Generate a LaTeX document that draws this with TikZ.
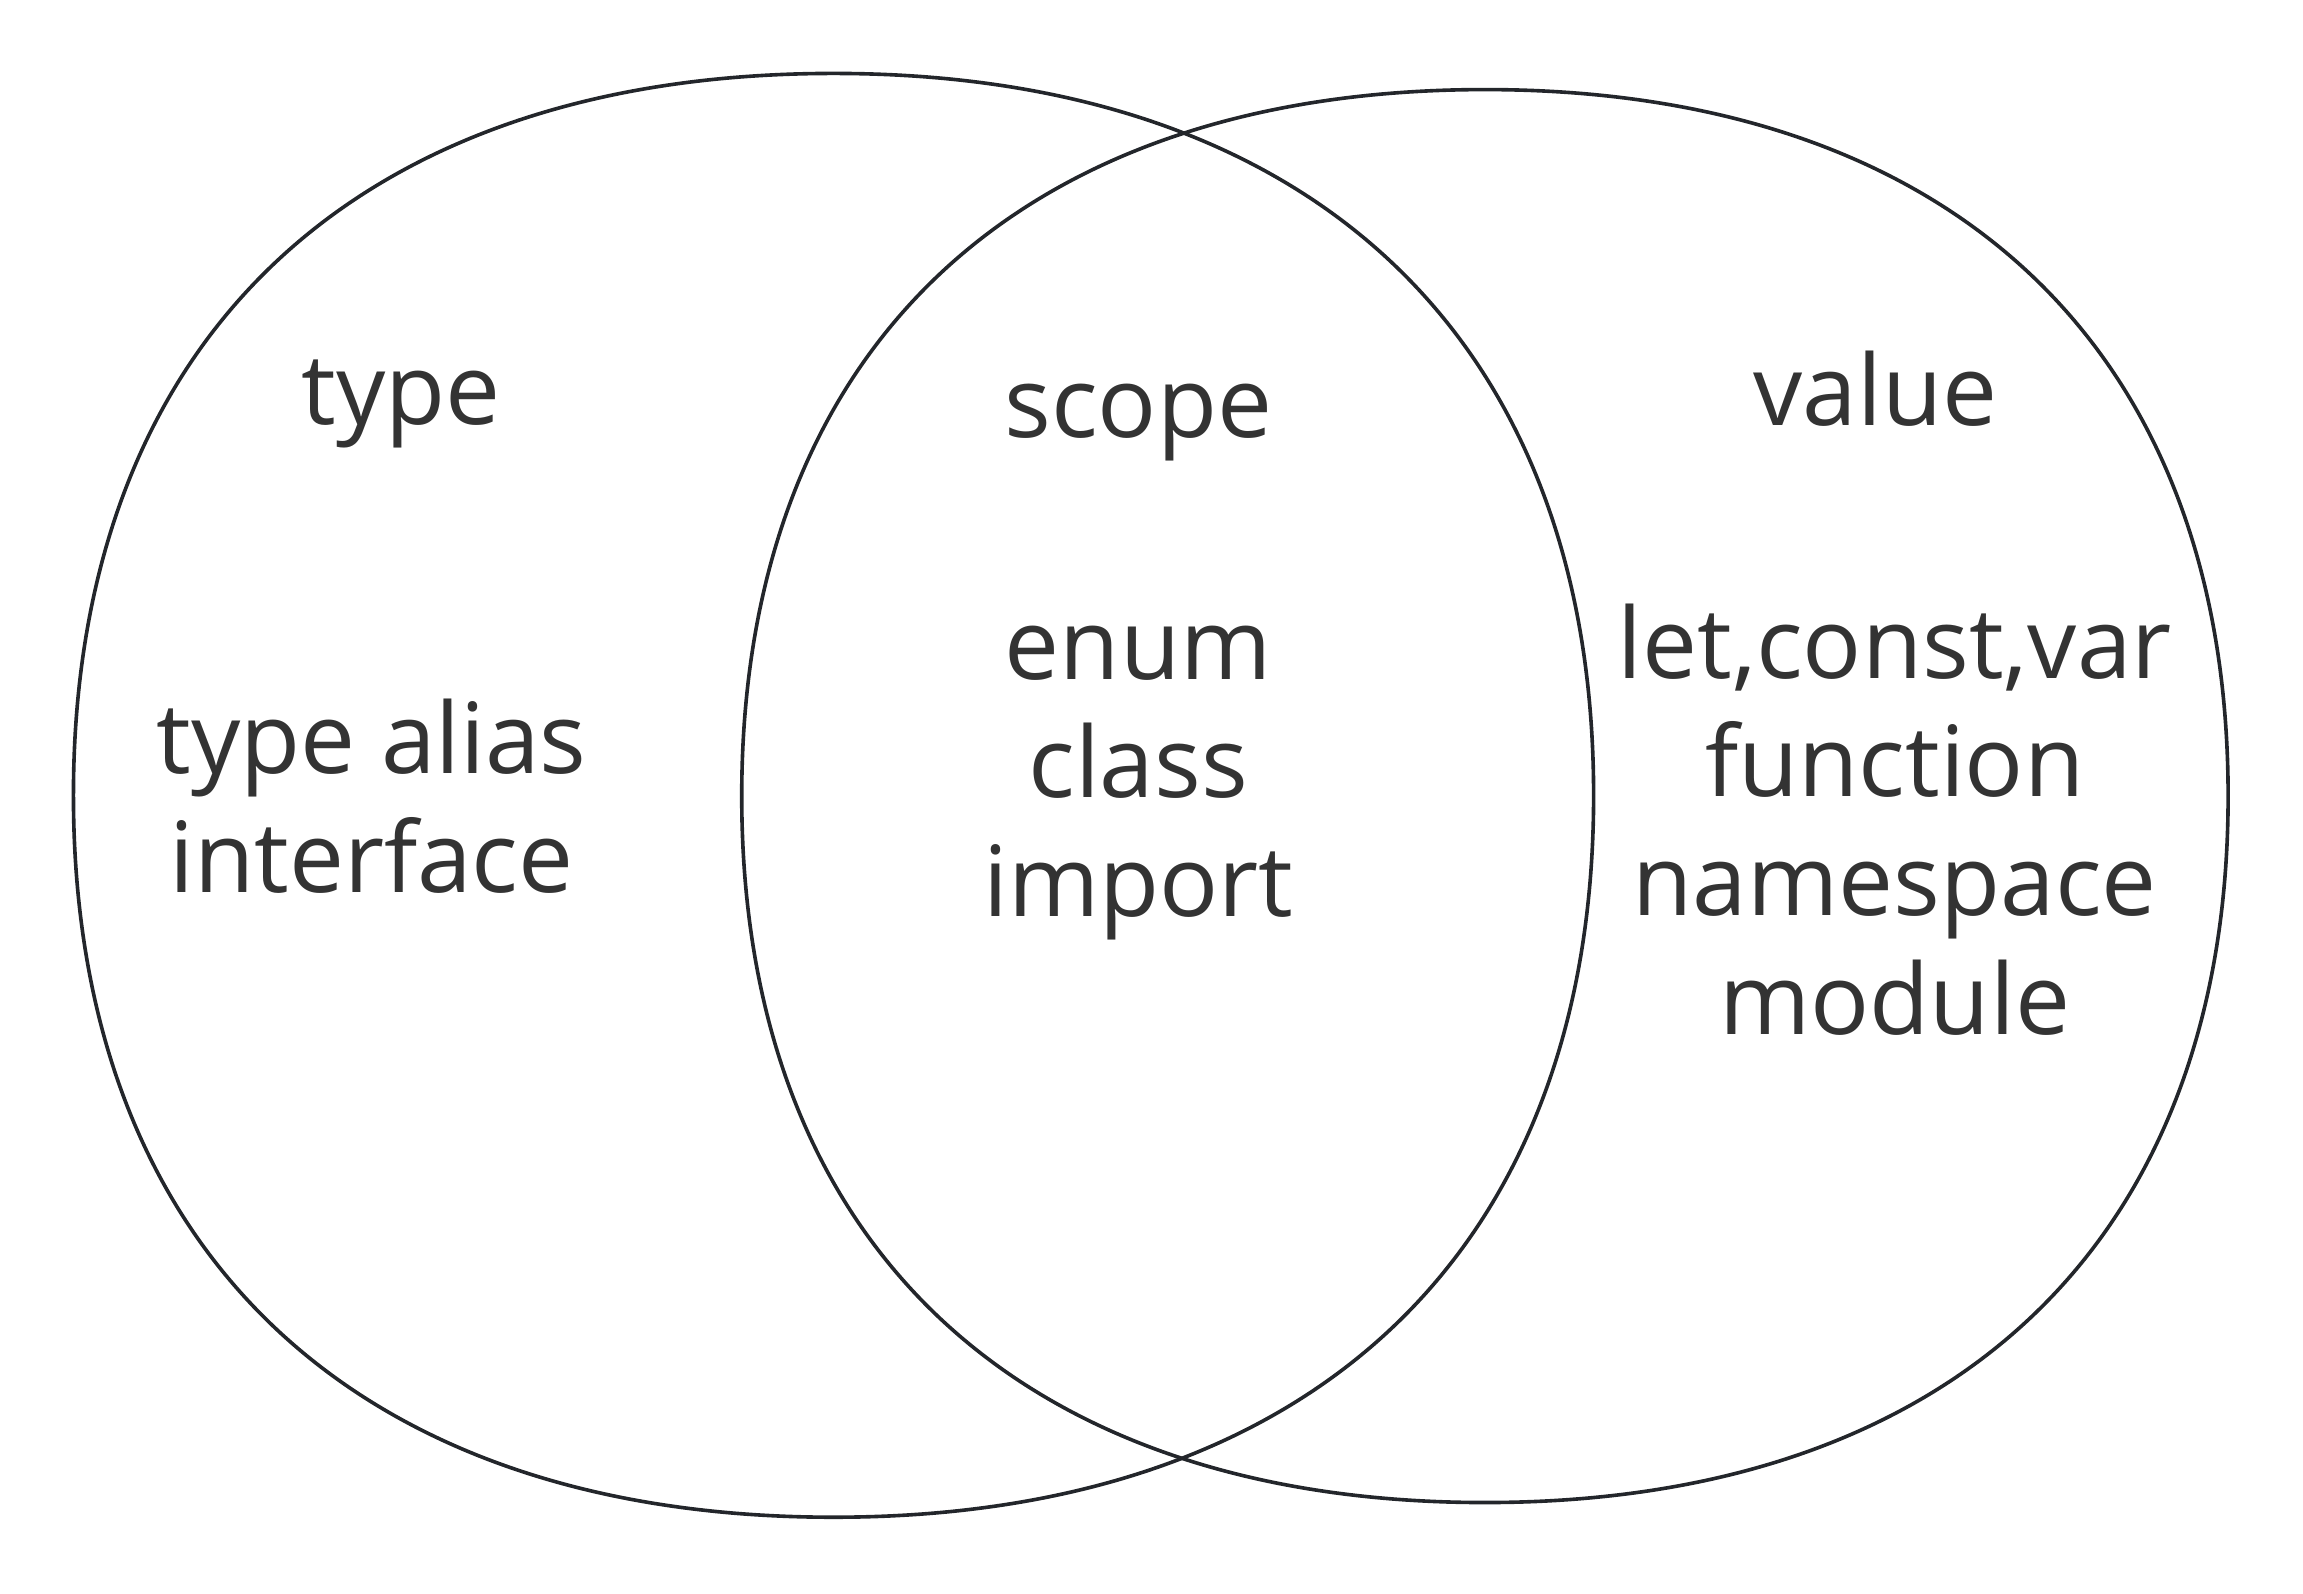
\documentclass[tikz,border=0pt]{standalone}
\usepackage{fontspec}
\setmainfont{Open Sans}
\usetikzlibrary{positioning}
\definecolor{txtgray}{HTML}{333333}
\definecolor{linegray}{HTML}{23262B}

% rounded-square oval: centre x, centre y, x radius, y radius
\newcommand{\setoval}[4]{%
  \draw[set] (#1+#3,#2) .. controls (#1+#3,#2+0.63*#4) and (#1+0.63*#3,#2+#4) .. (#1,#2+#4)
    .. controls (#1-0.63*#3,#2+#4) and (#1-#3,#2+0.63*#4) .. (#1-#3,#2)
    .. controls (#1-#3,#2-0.63*#4) and (#1-0.63*#3,#2-#4) .. (#1,#2-#4)
    .. controls (#1+0.63*#3,#2-#4) and (#1+#3,#2-0.63*#4) .. cycle;}

\begin{document}
\begin{tikzpicture}[
    set/.style={draw=linegray, line width=0.7pt},
    lbl/.style={text=txtgray, font=\fontsize{19}{23}\selectfont, align=center, inner sep=0pt}
]
\useasboundingbox (0,0) rectangle (15.68,10.85);

% Sets
\setoval{5.675}{5.435}{5.175}{4.915}
\setoval{10.11}{5.43}{5.06}{4.81}

% Headings
\node[lbl] (type) at (2.73,8.1) {type};
\node[lbl] (scope) at (7.75,7.97) {scope};
\node[lbl] (value) at (12.77,8.2) {value};

% Members
\node[lbl] (typeitems) at (2.53,5.43) {type alias\\interface};
\node[lbl] (scopeitems) at (7.75,5.52) {enum\\class\\import};
\node[lbl] (valueitems) at (12.9,5.27) {let,const,var\\function\\namespace\\module};

\end{tikzpicture}
\end{document}
